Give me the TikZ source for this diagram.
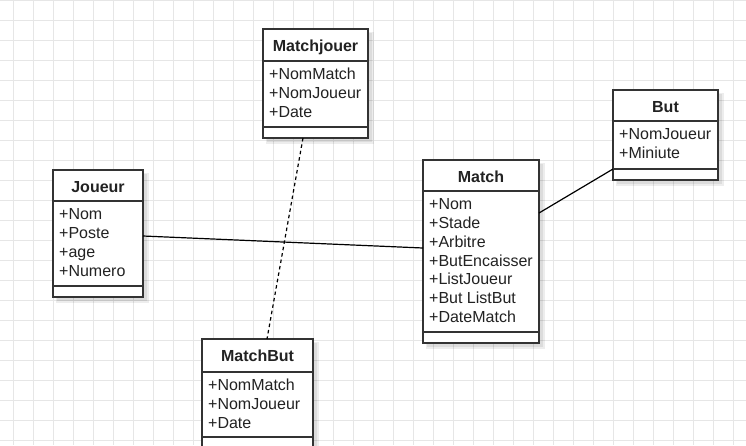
\documentclass[tikz,border=0pt]{standalone}
\usepackage{fontspec}
\setmainfont{Liberation Sans}
\usetikzlibrary{calc}
\definecolor{gridc}{HTML}{E6E6E6}
\definecolor{ink}{HTML}{333333}
\definecolor{txt}{HTML}{222222}
\tikzset{
  umlbox/.style={draw=ink, line width=1.4pt, fill=white, inner sep=0pt, outer sep=0pt},
  compline/.style={draw=ink, line width=1.3pt},
  gridline/.style={draw=gridc, line width=0.9pt},
  shadowbox/.style={fill=black, opacity=0.07, draw=none},
  attr/.style={anchor=base west, inner sep=0pt, text=txt, font=\fontsize{16}{19}\selectfont},
  classtitle/.style={anchor=base, inner sep=0pt, text=txt, font=\fontsize{16}{19}\selectfont\bfseries},
  assoc/.style={draw=black, line width=1.2pt},
  dep/.style={draw=black, line width=1.2pt, dash pattern=on 3.5pt off 3pt},
}
% #1 name, #2 x0, #3 x1, #4 top, #5 header line, #6 separator, #7 bottom, #8 title
\newcommand{\UmlClass}[8]{%
  \fill[shadowbox] (#2+3,#4+3) rectangle (#3+6,#7+6);
  \fill[shadowbox] (#2+4,#4+4) rectangle (#3+4,#7+4);
  \node[umlbox, minimum width=#3-#2, minimum height=#7-#4] (#1) at ({(#2+#3)/2},{(#4+#7)/2}) {};
  \draw[compline] (#2,#5) -- (#3,#5);
  \draw[compline] (#2,#6) -- (#3,#6);
  \node[classtitle] (#1-title) at ({(#2+#3)/2},#4+22) {#8};
}
\begin{document}
\begin{tikzpicture}[x=1pt,y=-1pt]
\useasboundingbox (0,0) rectangle (746,445);
\clip (0,0) rectangle (746,445);
\fill[white] (0,0) rectangle (746,445);
% grid
\foreach \gx in {13,33,...,733} \draw[gridline] (\gx,0) -- (\gx,445);
\foreach \gy in {0,20,...,440} \draw[gridline] (0,\gy) -- (746,\gy);

% classes
\UmlClass{matchjouer}{263}{368}{29}{61}{127}{138}{Matchjouer}
\foreach \t [count=\i from 0] in {+NomMatch,+NomJoueur,+Date}
  \node[attr] (mj-a\i) at (269,79.3+19.2*\i) {\t};

\UmlClass{but}{613}{718}{90}{121}{169}{180}{But}
\foreach \t [count=\i from 0] in {+NomJoueur,+Miniute}
  \node[attr] (but-a\i) at (619,139.3+19*\i) {\t};

\UmlClass{joueur}{53}{143}{170}{201}{286}{297}{Joueur}
\foreach \t [count=\i from 0] in {+Nom,+Poste,+age,+Numero}
  \node[attr] (jo-a\i) at (59,219.3+19.2*\i) {\t};

\UmlClass{match}{423}{539}{160}{191}{332}{343}{Match}
\foreach \t [count=\i from 0] in {+Nom,+Stade,+Arbitre,+ButEncaisser,+ListJoueur,+But ListBut,+DateMatch}
  \node[attr] (ma-a\i) at (429,209.3+18.9*\i) {\t};

\UmlClass{matchbut}{202}{313}{339}{372}{437}{448}{MatchBut}
\foreach \t [count=\i from 0] in {+NomMatch,+NomJoueur,+Date}
  \node[attr] (mb-a\i) at (208,390+19.2*\i) {\t};

% connectors
\draw[assoc] ($(joueur.east)+(0,2.5)$) -- ($(match.west)+(0,-3.5)$);
\draw[assoc] ($(match.east)+(0,-38.5)$) -- ($(but.south west)+(0,-11)$);
\draw[dep] ($(matchjouer.south)+(-12.5,0)$) -- ($(matchbut.north)+(9.5,0)$);
\end{tikzpicture}
\end{document}
